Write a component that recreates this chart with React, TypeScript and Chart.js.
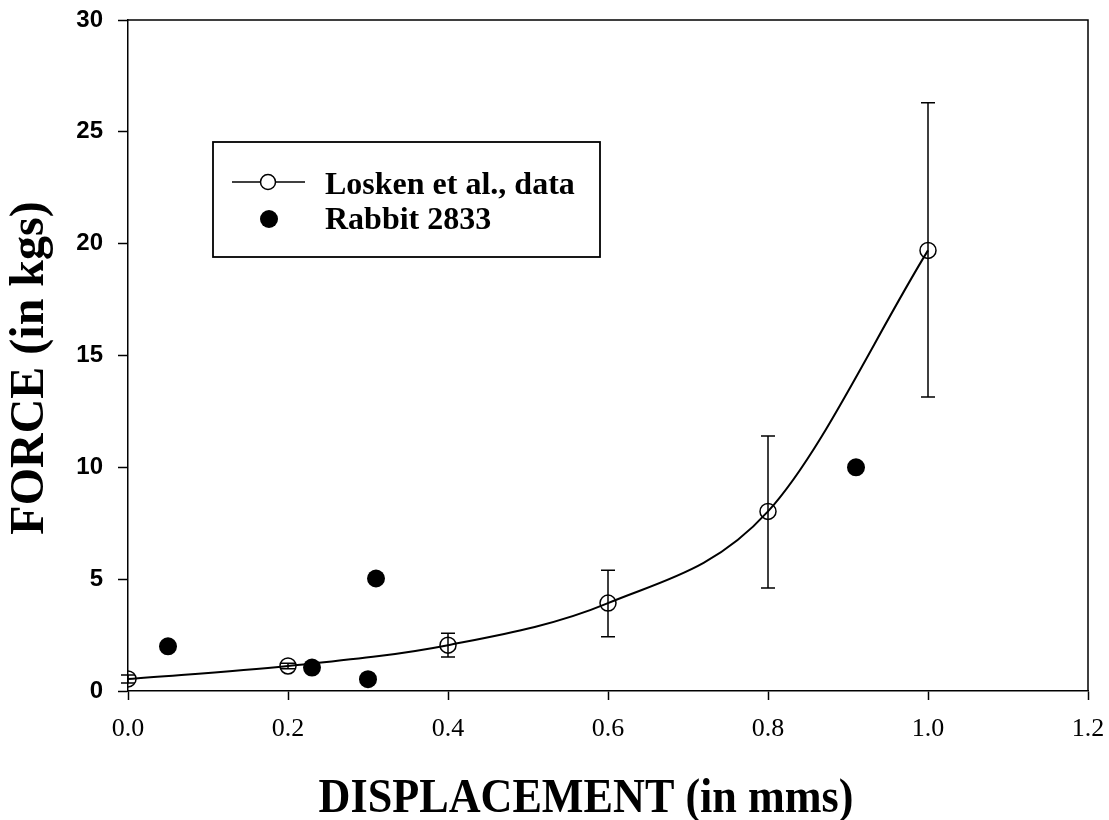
import React, { useEffect, useRef } from 'react';
import { Chart, registerables } from 'chart.js';

Chart.register(...registerables);

// Losken et al. data (mean with error bars)
const loskenX = [0, 0.2, 0.4, 0.6, 0.8, 1.0];
const loskenY = [0.54, 1.12, 2.05, 3.93, 8.03, 19.7];
const loskenLow = [0.36, 1.0, 1.52, 2.42, 4.6, 13.15];
const loskenHigh = [0.72, 1.24, 2.58, 5.4, 11.4, 26.3];

// Rabbit 2833 measurements
const rabbitX = [0.05, 0.23, 0.3, 0.31, 0.91];
const rabbitY = [2.0, 1.05, 0.53, 5.03, 10.0];

// Axis ticks
const xTickValues = [0, 0.2, 0.4, 0.6, 0.8, 1.0, 1.2];
const xTickLabels = ['0.0', '0.2', '0.4', '0.6', '0.8', '1.0', '1.2'];
const yTickValues = [0, 5, 10, 15, 20, 25, 30];
const yTickLabels = ['0', '5', '10', '15', '20', '25', '30'];

const xTitle = 'DISPLACEMENT (in mms)';
const yTitle = 'FORCE (in kgs)';
const legendLabels = ['Losken et al., data', 'Rabbit 2833'];

const SERIF = '"Liberation Serif", "Times New Roman", Times, serif';
const SANS = '"Liberation Sans", Arial, Helvetica, sans-serif';

const errorBarPlugin = {
  id: 'errorBars',
  beforeDatasetsDraw(chart: any) {
    const { ctx } = chart;
    const xs = chart.scales.x;
    const ys = chart.scales.y;
    ctx.save();
    ctx.strokeStyle = '#000';
    ctx.lineWidth = 1.5;
    const cap = 7;
    loskenX.forEach((xv, i) => {
      const px = xs.getPixelForValue(xv);
      const pLow = ys.getPixelForValue(loskenLow[i]);
      const pHigh = ys.getPixelForValue(loskenHigh[i]);
      ctx.beginPath();
      ctx.moveTo(px, pLow);
      ctx.lineTo(px, pHigh);
      ctx.moveTo(px - cap, pLow);
      ctx.lineTo(px + cap, pLow);
      ctx.moveTo(px - cap, pHigh);
      ctx.lineTo(px + cap, pHigh);
      ctx.stroke();
    });
    ctx.restore();
  },
};

const decorPlugin = {
  id: 'decor',
  afterDraw(chart: any) {
    const { ctx, chartArea } = chart;
    const { left, right, top, bottom } = chartArea;
    ctx.save();
    // frame: top and right
    ctx.strokeStyle = '#000';
    ctx.lineWidth = 1.5;
    ctx.beginPath();
    ctx.moveTo(left, top);
    ctx.lineTo(right, top);
    ctx.lineTo(right, bottom);
    ctx.stroke();

    // x title
    ctx.fillStyle = '#000';
    ctx.font = `bold 48px ${SERIF}`;
    ctx.textAlign = 'center';
    ctx.textBaseline = 'alphabetic';
    ctx.save();
    ctx.translate(586, 812);
    ctx.scale(0.92, 1);
    ctx.fillText(xTitle, 0, 0);
    ctx.restore();

    // y title
    ctx.save();
    ctx.font = `bold 48px ${SERIF}`;
    ctx.translate(43, 368);
    ctx.rotate(-Math.PI / 2);
    ctx.fillText(yTitle, 0, 0);
    ctx.restore();

    // legend box
    ctx.lineWidth = 1.8;
    ctx.strokeRect(213, 142, 387, 115);
    // row 1 symbol
    ctx.lineWidth = 1.5;
    ctx.beginPath();
    ctx.moveTo(232, 182);
    ctx.lineTo(305, 182);
    ctx.stroke();
    ctx.fillStyle = '#fff';
    ctx.beginPath();
    ctx.arc(268, 182, 7.5, 0, Math.PI * 2);
    ctx.fill();
    ctx.stroke();
    // row 2 symbol
    ctx.fillStyle = '#000';
    ctx.beginPath();
    ctx.arc(269, 219, 9, 0, Math.PI * 2);
    ctx.fill();
    // legend text
    ctx.font = `bold 32px ${SERIF}`;
    ctx.textAlign = 'left';
    ctx.fillText(legendLabels[0], 325, 194);
    ctx.fillText(legendLabels[1], 325, 229);
    ctx.restore();
  },
};

export default function App() {
  const ref = useRef<HTMLCanvasElement | null>(null);

  useEffect(() => {
    if (!ref.current) return;
    const chart = new Chart(ref.current, {
      type: 'line',
      data: {
        datasets: [
          {
            label: legendLabels[0],
            data: loskenX.map((x, i) => ({ x, y: loskenY[i] })),
            showLine: true,
            borderColor: '#000',
            borderWidth: 2,
            cubicInterpolationMode: 'monotone',
            pointRadius: 8,
            pointHoverRadius: 8,
            pointBackgroundColor: 'rgba(0,0,0,0)',
            pointBorderColor: '#000',
            pointBorderWidth: 1.5,
            fill: false,
          } as any,
          {
            label: legendLabels[1],
            data: rabbitX.map((x, i) => ({ x, y: rabbitY[i] })),
            showLine: false,
            pointRadius: 9,
            pointHoverRadius: 9,
            pointBackgroundColor: '#000',
            pointBorderColor: '#000',
            pointBorderWidth: 0,
          } as any,
        ],
      },
      options: {
        animation: false,
        responsive: false,
        maintainAspectRatio: false,
        events: [],
        layout: { padding: { top: 20, right: 21, left: 0, bottom: 0 } },
        plugins: {
          legend: { display: false },
          tooltip: { enabled: false },
        },
        scales: {
          x: {
            type: 'linear',
            min: 0,
            max: 1.2,
            afterBuildTicks: (s: any) => {
              s.ticks = xTickValues.map((v) => ({ value: v }));
            },
            afterFit: (s: any) => {
              s.height = 129;
              s.paddingLeft = 0;
              s.paddingRight = 0;
            },
            ticks: {
              autoSkip: false,
              maxRotation: 0,
              padding: 14,
              color: '#000',
              font: { family: SERIF, size: 26 },
              callback: (_v: any, i: number) => xTickLabels[i],
            },
            grid: {
              drawOnChartArea: false,
              drawTicks: true,
              tickLength: 9,
              tickWidth: 1.5,
              tickColor: '#000',
            },
            border: { display: true, color: '#000', width: 1.5 },
          },
          y: {
            type: 'linear',
            min: 0,
            max: 30,
            afterBuildTicks: (s: any) => {
              s.ticks = yTickValues.map((v) => ({ value: v }));
            },
            afterFit: (s: any) => {
              s.width = 128;
              s.paddingTop = 0;
              s.paddingBottom = 0;
            },
            ticks: {
              autoSkip: false,
              padding: 15,
              color: '#000',
              font: { family: SANS, size: 24, weight: 'bold' },
              callback: (_v: any, i: number) => yTickLabels[i],
            },
            grid: {
              drawOnChartArea: false,
              drawTicks: true,
              tickLength: 10,
              tickWidth: 1.5,
              tickColor: '#000',
            },
            border: { display: true, color: '#000', width: 1.5 },
          },
        },
      } as any,
      plugins: [errorBarPlugin, decorPlugin],
    });
    return () => chart.destroy();
  }, []);

  return (
    <div style={{ position: 'fixed', left: 0, top: 0, width: 1109, height: 820, background: '#fff' }}>
      <canvas ref={ref} width={1109} height={820} style={{ width: 1109, height: 820, display: 'block' }} />
    </div>
  );
}
